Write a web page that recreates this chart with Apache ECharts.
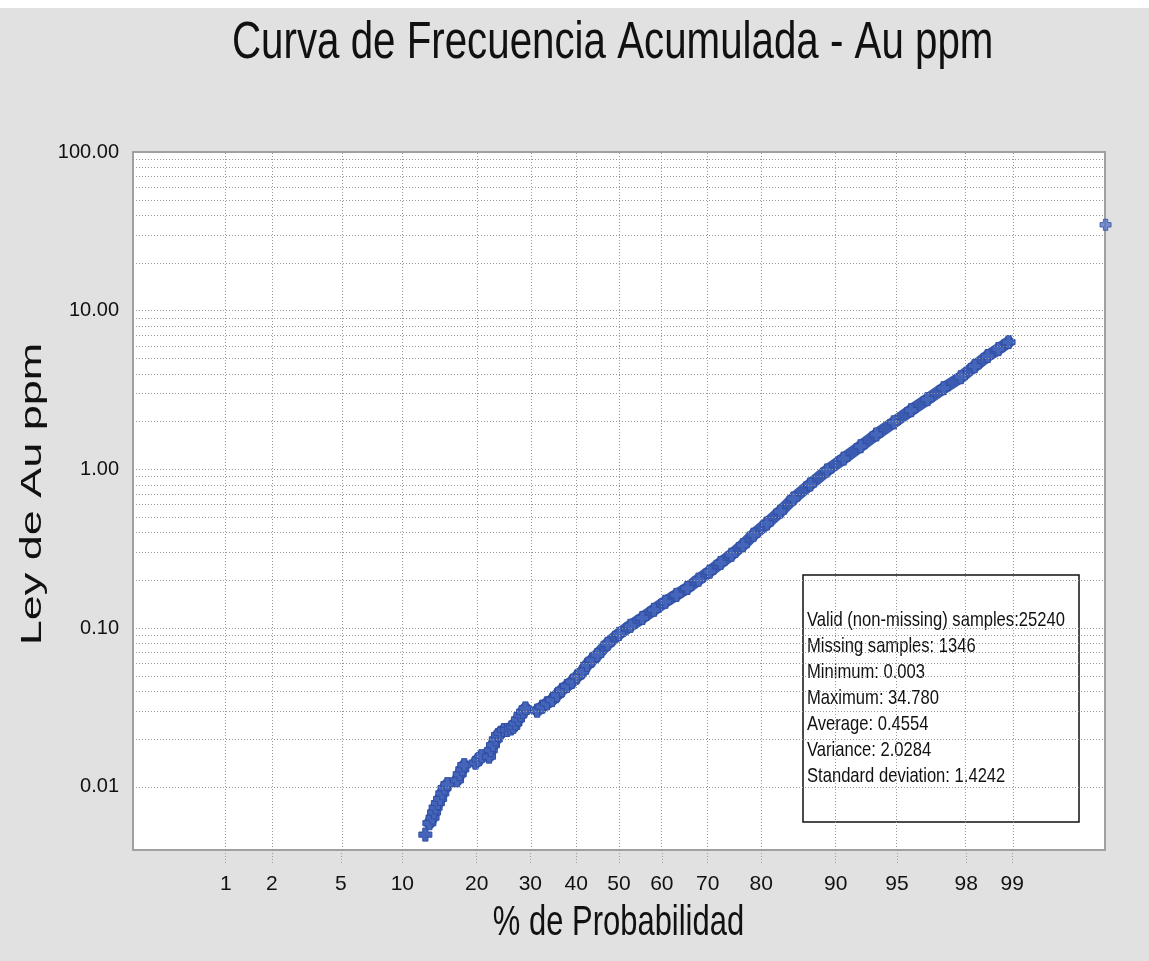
<!DOCTYPE html>
<html>
<head>
<meta charset="utf-8">
<script src="https://cdn.jsdelivr.net/npm/echarts@6/dist/echarts.min.js"></script>
<style>
html,body{margin:0;padding:0;}
body{width:1149px;height:961px;background:linear-gradient(#ffffff 0px,#ffffff 8px,#e1e1e1 8px,#e1e1e1 100%);}
#chart{position:absolute;left:0;top:0;width:1149px;height:961px;}
</style>
</head>
<body>
<div id="chart"></div>
<script>
// ---- data (cumulative probability %, Au ppm) ----
const probTicks = [1, 2, 5, 10, 20, 30, 40, 50, 60, 70, 80, 90, 95, 98, 99];
const gridMantissas = [1, 2, 3, 4, 5, 6, 7, 8, 9];
const gridDecades = [0.001, 0.01, 0.1, 1, 10];

const probA = [12.6];
const ppmA  = [0.0050];
const probB = [13.1, 13.5, 13.7, 13.9, 14.2, 14.5, 14.8, 15.1, 15.5];
const ppmB  = [0.0059, 0.0064, 0.0069, 0.0074, 0.0079, 0.0084, 0.0091, 0.0098, 0.0104];
const probC = [16.9, 17.3, 17.7, 18.0];
const ppmC  = [0.0110, 0.0120, 0.0129, 0.0137];
const probD = [19.8, 20.3, 20.8];
const ppmD  = [0.0142, 0.0149, 0.0156];
const probE = [22.1, 22.4, 22.8, 23.3, 23.7, 24.2, 24.8, 25.4, 26.1, 26.6, 27.0, 27.5, 28.0, 28.5, 29.0];
const ppmE  = [0.0155, 0.0170, 0.0183, 0.0199, 0.0212, 0.0219, 0.0228, 0.0228, 0.0233, 0.0239, 0.0251, 0.0266, 0.0283, 0.0297, 0.0312];
const probF = [31.4, 32.5, 33.5, 34.6, 35.7, 36.8, 37.9, 39.1, 40.2, 41.4, 42.5, 43.7, 44.9, 47.3, 50.0, 52.7, 55.5, 58.2, 60.8, 63.3, 65.7, 68.1, 70.4, 72.6, 74.7, 76.8, 78.7, 80.9, 83.0, 84.9, 87.1, 89.1, 90.8, 92.35, 93.6, 94.8, 95.8, 96.6, 97.26, 97.84, 98.23, 98.54, 98.76, 98.94];
const ppmF  = [0.0302, 0.0320, 0.0336, 0.0352, 0.0379, 0.0408, 0.0432, 0.0460, 0.0495, 0.0532, 0.0586, 0.0631, 0.0678, 0.0796, 0.092, 0.1035, 0.116, 0.1305, 0.1466, 0.162, 0.179, 0.202, 0.227, 0.2575, 0.290, 0.333, 0.388, 0.456, 0.543, 0.656, 0.804, 0.986, 1.17, 1.40, 1.66, 1.98, 2.36, 2.77, 3.25, 3.81, 4.47, 5.18, 5.73, 6.34];
const probMax = [99.8];
const ppmMax  = [34.78];

const titleText = 'Curva de Frecuencia Acumulada - Au ppm';
const xAxisTitle = '% de Probabilidad';
const yAxisTitle = 'Ley de Au ppm';
const statsLines = [
  'Valid (non-missing) samples:25240',
  'Missing samples: 1346',
  'Minimum: 0.003',
  'Maximum: 34.780',
  'Average: 0.4554',
  'Variance: 2.0284',
  'Standard deviation: 1.4242'
];

// ---- normal probability scale (percent -> standard normal quantile) ----
function normInv(p) {
  const a=[-3.969683028665376e+01,2.209460984245205e+02,-2.759285104469687e+02,1.383577518672690e+02,-3.066479806614716e+01,2.506628277459239e+00];
  const b=[-5.447609879822406e+01,1.615858368580409e+02,-1.556989798598866e+02,6.680131188771972e+01,-1.328068155288572e+01];
  const c=[-7.784894002430293e-03,-3.223964580411365e-01,-2.400758277161838e+00,-2.549732539343734e+00,4.374664141464968e+00,2.938163982698783e+00];
  const d=[7.784695709041462e-03,3.224671290700398e-01,2.445134137142996e+00,3.754408661907416e+00];
  const pl=0.02425, ph=1-pl; let q, r;
  if (p < pl) { q=Math.sqrt(-2*Math.log(p)); return (((((c[0]*q+c[1])*q+c[2])*q+c[3])*q+c[4])*q+c[5])/((((d[0]*q+d[1])*q+d[2])*q+d[3])*q+1); }
  if (p <= ph) { q=p-0.5; r=q*q; return (((((a[0]*r+a[1])*r+a[2])*r+a[3])*r+a[4])*r+a[5])*q/(((((b[0]*r+b[1])*r+b[2])*r+b[3])*r+b[4])*r+1); }
  q=Math.sqrt(-2*Math.log(1-p)); return -(((((c[0]*q+c[1])*q+c[2])*q+c[3])*q+c[4])*q+c[5])/((((d[0]*q+d[1])*q+d[2])*q+d[3])*q+1);
}
const zOf = pct => normInv(pct / 100);
const zTicks = probTicks.map(zOf);
const pairs = (P, V) => P.map((p, i) => [zOf(p), V[i]]);

const segments = [[probA, ppmA], [probB, ppmB], [probC, ppmC], [probD, ppmD], [probE, ppmE], [probF, ppmF]];

const hGrid = [];
gridDecades.forEach(dec => gridMantissas.forEach(m => {
  const v = +(dec * m).toPrecision(3);
  if (v > 0.004 && v < 100) hGrid.push({ yAxis: v });
}));
const vGrid = zTicks.map(z => ({ xAxis: z }));

const BLUE = '#3a5bb0';
const CROSS = 'path://M3,0H7V3H10V7H7V10H3V7H0V3H3Z';
const SANS = '"Liberation Sans",Arial,sans-serif';

const series = [{
  type: 'line', name: 'grid', data: [], silent: true, z: 1,
  markLine: {
    silent: true, animation: false, symbol: ['none', 'none'],
    label: { show: false },
    lineStyle: { type: [1, 2], color: '#969696', width: 1 },
    data: hGrid.concat(vGrid)
  }
}];
segments.forEach(([P, V]) => series.push({
  type: 'line', name: 'Au ppm', data: pairs(P, V), z: 3,
  symbol: CROSS, symbolSize: 13, showSymbol: true,
  itemStyle: { color: '#4565bb', borderColor: '#2f4ea3', borderWidth: 1 },
  lineStyle: { color: BLUE, width: 12, cap: 'round', join: 'round' },
  silent: true, animation: false
}));
series.push({
  type: 'scatter', name: 'Máximo', data: pairs(probMax, ppmMax), z: 3, clip: false,
  symbol: CROSS, symbolSize: 11,
  itemStyle: { color: '#5a78c4', borderColor: '#2f4ea3', borderWidth: 1 },
  silent: true, animation: false
});

const chart = echarts.init(document.getElementById('chart'), null, { renderer: 'canvas' });
chart.setOption({
  animation: false,
  backgroundColor: 'transparent',
  grid: {
    left: 133, top: 152, width: 972, height: 698,
    outerBoundsMode: 'none', containLabel: false,
    show: true, backgroundColor: '#ffffff', borderColor: '#a0a0a0', borderWidth: 2
  },
  xAxis: {
    type: 'value', min: -2.875, max: 2.875,
    axisLine: { show: false },
    splitLine: { show: false },
    axisTick: { show: true, customValues: zTicks, length: 14, lineStyle: { type: [1, 2], color: '#9a9a9a' } },
    axisLabel: {
      customValues: zTicks, margin: 24,
      fontFamily: SANS, fontSize: 21, color: '#111',
      formatter: v => {
        let best = 0;
        zTicks.forEach((z, i) => { if (Math.abs(z - v) < Math.abs(zTicks[best] - v)) best = i; });
        return String(probTicks[best]);
      }
    }
  },
  yAxis: {
    type: 'log', logBase: 10, min: 0.004, max: 100,
    axisLine: { show: false },
    splitLine: { show: false },
    axisTick: { show: false },
    axisLabel: {
      showMinLabel: false, margin: 14,
      fontFamily: SANS, fontSize: 20, color: '#111',
      formatter: v => Number(v).toFixed(2)
    }
  },
  graphic: [
    { type: 'text', x: 232, y: 44, scaleX: 0.79, z: 100, silent: true,
      style: { text: titleText, fontFamily: SANS, fontSize: 51, fill: '#111', textAlign: 'left', verticalAlign: 'middle' } },
    { type: 'text', x: 618.5, y: 923, scaleX: 0.72, z: 100, silent: true,
      style: { text: xAxisTitle, fontFamily: SANS, fontSize: 43, fill: '#111', textAlign: 'center', verticalAlign: 'middle' } },
    { type: 'text', x: 33, y: 494, rotation: Math.PI / 2, scaleX: 1.5, z: 100, silent: true,
      style: { text: yAxisTitle, fontFamily: SANS, fontSize: 30, fill: '#111', textAlign: 'center', verticalAlign: 'middle' } },
    { type: 'group', x: 803, y: 575, z: 100,
      children: [
        { type: 'rect', shape: { x: 0, y: 0, width: 276, height: 247 }, style: { fill: '#ffffff', stroke: '#111111', lineWidth: 1.5 } },
        { type: 'text', x: 4, y: 32, scaleX: 0.79, style: { text: statsLines.join('\n'), fontFamily: SANS, fontSize: 21, lineHeight: 26, fill: '#111', verticalAlign: 'top' } }
      ]
    }
  ],
  series: series
});
</script>
</body>
</html>
